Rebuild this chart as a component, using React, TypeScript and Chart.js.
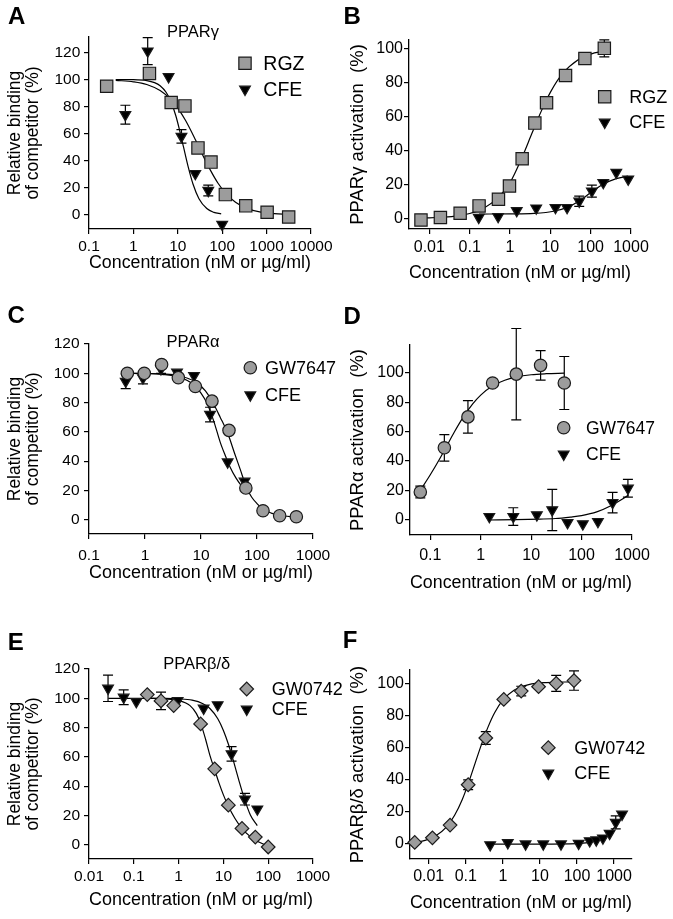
import { useEffect, useRef } from 'react';
import Chart from 'chart.js/auto';
import { drawPoint } from 'chart.js/helpers';

// ---- values ----

// A: PPARγ competitive binding
const aRgzX = [0.25, 2.3, 7.1, 14.5, 28.5, 56, 118, 340, 1030, 3150];
const aRgzY = [95, 104.5, 83, 80.5, 49.5, 39, 15, 6.7, 2, -1.5];
const aCfeX = [0.66, 2.1, 6.2, 12.1, 24.8, 48.6, 100];
const aCfeY = [74, 121, 102, 58, 30.5, 18, -7];
const aCfeErr = [7, 10, 0, 5, 0, 4, 0];
const aRgzFitX = [0.4, 1, 2, 4, 7, 10, 15, 25, 35, 55, 80, 120, 200, 350, 700, 1500, 3000];
const aRgzFitY = [99.4, 98.3, 96.3, 91.8, 85.2, 78.9, 69.7, 55.5, 45.4, 32.7, 23.6, 16.1, 9.3, 5.0, 2.2, 0.9, 0.4];
const aCfeFitX = [0.4, 1, 2, 3, 4, 5.5, 7, 9, 11, 13.5, 17, 22, 30, 45, 65, 95];
const aCfeFitY = [100, 99.9, 99.2, 97.7, 95.4, 90.4, 83.8, 73.4, 62.5, 50, 36, 22.8, 12, 4.7, 1.9, 0.8];

// B: PPARγ activation
const bRgzX = [0.0062, 0.0188, 0.058, 0.171, 0.517, 0.97, 2.0, 4.13, 8.05, 23.8, 72, 218];
const bRgzY = [-1, 0.5, 3, 7.3, 11.2, 19, 35, 56, 68, 84, 94, 100];
const bRgzErr = [0, 0, 0, 0, 0, 0, 0, 0, 0, 0, 0, 5];
const bCfeX = [0.168, 0.507, 1.47, 4.46, 13.4, 26, 52, 107, 205, 432, 854];
const bCfeY = [0.5, 1, 4.5, 6, 6.3, 6.3, 10, 16, 21, 27, 23];
const bCfeErr = [0, 0, 0, 0, 0, 0, 3, 3.5, 0, 0, 0];
const bRgzFitX = [0.006, 0.01, 0.02, 0.05, 0.1, 0.2, 0.5, 1, 2, 3.5, 6, 10, 20, 50, 100, 220];
const bRgzFitY = [0.2, 0.3, 0.6, 1.4, 2.8, 5.4, 12, 21, 36, 50, 63.2, 74.1, 85.1, 93.5, 96.6, 98.4];
const bCfeFitX = [0.17, 1, 4, 13, 26, 52, 107, 205, 432, 850];
const bCfeFitY = [2.5, 2.6, 2.9, 4.3, 6.4, 10.2, 15.6, 20.0, 23.3, 24.8];

// C: PPARα competitive binding
const cGwX = [0.484, 0.97, 1.98, 3.94, 7.92, 15.7, 31.6, 63.2, 128, 254, 504];
const cGwY = [100, 100, 106, 97, 91, 81, 61, 21.6, 6.1, 2.7, 2];
const cCfeX = [0.452, 0.92, 1.93, 3.73, 7.5, 14.5, 29.9, 60];
const cCfeY = [94.5, 96.8, 103, 100.7, 98.4, 71.8, 39.4, 26.2];
const cCfeErr = [5, 4, 3, 0, 0, 5, 0, 0];
const cGwFitX = [0.48, 1, 2, 4, 8, 12, 16, 22, 30, 40, 50, 65, 80, 100, 130, 180, 250, 500];
const cGwFitY = [100, 99.9, 99.6, 98.5, 94, 88, 80.5, 70, 59, 45, 34.5, 22, 15.5, 11, 7, 4.5, 3, 1.8];
const cCfeFitX = [0.45, 1, 2, 4, 7.5, 10, 13, 17, 22, 27, 33, 42, 52, 62];
const cCfeFitY = [100, 99.8, 99.3, 97.5, 92, 86.5, 79, 67, 53, 44, 36, 28.5, 23.5, 20.5];

// D: PPARα activation
const dGwX = [0.0634, 0.19, 0.558, 1.72, 5.07, 15.4, 45.4];
const dGwY = [19, 49, 70, 93, 99, 105, 93];
const dGwErr = [4, 9, 11, 0, 31, 10, 18];
const dCfeX = [1.48, 4.42, 13, 26.2, 52.8, 106, 211, 412, 830];
const dCfeY = [2.3, 2.3, 3.4, 6.8, -1.8, -2.7, -1.1, 11.8, 21.5];
const dCfeErr = [0, 6, 0, 14, 0, 0, 0, 7, 6];
const dGwFitX = [0.063, 0.1, 0.15, 0.21, 0.3, 0.45, 0.7, 1, 1.7, 3, 5, 10, 20, 45];
const dGwFitY = [20, 30.7, 40.9, 50, 59.7, 69.8, 79, 84.8, 91, 94.9, 97, 98.6, 99.3, 99.7];
const dCfeFitX = [1.5, 5, 15, 30, 60, 100, 200, 400, 600, 850];
const dCfeFitY = [0, 0.2, 0.6, 1, 2, 3, 5.5, 10, 13.5, 17];

// E: PPARβ/δ competitive binding
const eGwX = [0.2, 0.405, 0.776, 3.1, 6.38, 12.9, 26, 51.6, 100];
const eGwY = [102.5, 98.2, 95, 82.5, 51.8, 27, 11.1, 5.2, -1.6];
const eGwErr = [0, 6, 0, 0, 0, 0, 0, 0, 0];
const eCfeX = [0.0266, 0.0594, 0.114, 0.95, 3.62, 7.45, 15.2, 30.3, 57.2];
const eCfeY = [106.8, 100.7, 97.7, 98.4, 93.2, 95.5, 62, 31.1, 24.3];
const eCfeErr = [9, 5, 0, 0, 0, 0, 5, 4, 0];
const eGwFitX = [0.2, 0.5, 1, 1.8, 2.5, 3.1, 4, 5, 6.4, 8, 10, 13, 18, 26, 40, 60, 100];
const eGwFitY = [100, 99.6, 98.5, 95, 89.5, 83, 72, 61, 51, 42, 34, 26, 18, 11, 5.5, 2, -1];
const eCfeFitX = [0.027, 0.1, 0.5, 1, 2, 3.5, 5, 7.5, 10, 13, 17, 22, 30, 40, 57];
const eCfeFitY = [100, 100, 99.9, 99.6, 98.7, 96.3, 93, 86, 78, 68.4, 56.5, 44.3, 30.6, 20.3, 13];

// F: PPARβ/δ activation
const fGwX = [0.0042, 0.0126, 0.0377, 0.116, 0.347, 1.06, 3.13, 9.2, 27.5, 83];
const fGwY = [1, 3.9, 11.8, 36.9, 66, 90, 95.2, 97.9, 100, 101.7];
const fGwErr = [0, 0, 0, 3, 4, 0, 3, 0, 5, 6];
const fCfeX = [0.455, 1.36, 4.1, 12.3, 37, 111, 220, 331, 500, 760, 1110, 1640];
const fCfeY = [-0.5, 0.8, 0, 0, 0, 0.4, 2, 2.5, 3.7, 6.6, 13.5, 18.5];
const fCfeErr = [0, 0, 0, 0, 0, 0, 0, 0, 0, 0, 4, 0];
const fGwFitX = [0.0042, 0.008, 0.015, 0.03, 0.05, 0.08, 0.12, 0.18, 0.27, 0.4, 0.6, 1, 2, 5, 15, 83];
const fGwFitY = [1.1, 2.3, 4.9, 10.5, 17.9, 27.6, 38.4, 50.5, 62.5, 72.9, 81.7, 89.5, 95.7, 99.2, 100.5, 100.9];
const fCfeFitX = [0.45, 10, 100, 200, 350, 500, 700, 900, 1200, 1700];
const fCfeFitY = [0, 0, 0.3, 0.9, 2.2, 3.6, 6, 8.8, 12.5, 18];

// tick labels
const aXTicks = [0.1, 1, 10, 100, 1000, 10000];
const bXTicks = [0.01, 0.1, 1, 10, 100, 1000];
const cXTicks = [0.1, 1, 10, 100, 1000];
const dXTicks = [0.1, 1, 10, 100, 1000];
const eXTicks = [0.01, 0.1, 1, 10, 100, 1000];
const fXTicks = [0.01, 0.1, 1, 10, 100, 1000];
const bindYTicks = [0, 20, 40, 60, 80, 100, 120];
const actYTicks = [0, 20, 40, 60, 80, 100];

const X_TITLE = 'Concentration (nM or µg/ml)';
const BIND_TITLE = ['Relative binding', 'of competitor (%)'];

// ---- styling ----
const FONT = '"Liberation Sans", Arial, Helvetica, sans-serif';
const GREY = '#9c9c9c';
const EDGE = '#1a1a1a';

type Marker = {
  pointStyle: 'rect' | 'triangle' | 'circle' | 'rectRot';
  radius: number;
  rotation: number;
  fill: string;
};
const SQUARE: Marker = { pointStyle: 'rect', radius: 8.7, rotation: 0, fill: GREY };
const TRIANGLE: Marker = { pointStyle: 'triangle', radius: 6.2, rotation: 180, fill: '#000' };
const CIRCLE: Marker = { pointStyle: 'circle', radius: 6.2, rotation: 0, fill: GREY };
const DIAMOND: Marker = { pointStyle: 'rectRot', radius: 6.8, rotation: 0, fill: GREY };

interface Series {
  label: string;
  xs: number[];
  ys: number[];
  errs?: number[];
  marker: Marker;
  fitX: number[];
  fitY: number[];
}

interface PanelDef {
  letter: string;
  letterX: number;
  letterY: number;
  left: number;
  top: number;
  width: number;
  height: number;
  area: { l: number; t: number; r: number; b: number };
  xMin: number;
  xMax: number;
  xTicks: number[];
  yMin: number;
  yMax: number;
  yTicks: number[];
  yTitle: string | string[];
  yTitleSize: number;
  yTitlePad: number;
  yTickPad: number;
  tickSize: number;
  xTitlePad: number;
  xTickPad: number;
  title?: { text: string; x: number; y: number };
  legend: { markerX: number; textX: number; ys: number[]; size: number };
  series: Series[];
}

const panels: PanelDef[] = [
  {
    letter: 'A', letterX: 16.7, letterY: 17.7,
    left: 0, top: 0, width: 336, height: 300,
    area: { l: 89, t: 37, r: 313, b: 229 },
    xMin: 0.1, xMax: 10000, xTicks: aXTicks,
    yMin: -10.4, yMax: 131.4, yTicks: bindYTicks,
    yTitle: BIND_TITLE, yTitleSize: 17.5, yTitlePad: 5.8, yTickPad: 3.7, tickSize: 15.5,
    xTitlePad: 27.3, xTickPad: 3.5,
    title: { text: 'PPARγ', x: 193, y: 32 },
    legend: { markerX: 245, textX: 263.3, ys: [63.3, 89.3], size: 19.5 },
    series: [
      { label: 'RGZ', xs: aRgzX, ys: aRgzY, marker: SQUARE, fitX: aRgzFitX, fitY: aRgzFitY },
      { label: 'CFE', xs: aCfeX, ys: aCfeY, errs: aCfeErr, marker: TRIANGLE, fitX: aCfeFitX, fitY: aCfeFitY },
    ],
  },
  {
    letter: 'B', letterX: 16.2, letterY: 17.2,
    left: 336, top: 0, width: 337, height: 300,
    area: { l: 73, t: 40, r: 295, b: 229 },
    xMin: 0.00313, xMax: 1000, xTicks: bXTicks,
    yMin: -6.3, yMax: 104.9, yTicks: actYTicks,
    yTitle: 'PPARγ activation  (%)', yTitleSize: 18.5, yTitlePad: 12.3, yTickPad: 1, tickSize: 16,
    xTitlePad: 17.5, xTickPad: 4,
    legend: { markerX: 268.7, textX: 293.3, ys: [96.7, 122.3], size: 18 },
    series: [
      { label: 'RGZ', xs: bRgzX, ys: bRgzY, errs: bRgzErr, marker: SQUARE, fitX: bRgzFitX, fitY: bRgzFitY },
      { label: 'CFE', xs: bCfeX, ys: bCfeY, errs: bCfeErr, marker: TRIANGLE, fitX: bCfeFitX, fitY: bCfeFitY },
    ],
  },
  {
    letter: 'C', letterX: 16.2, letterY: 16.2,
    left: 0, top: 300, width: 346, height: 310,
    area: { l: 89, t: 44, r: 313, b: 234 },
    xMin: 0.1, xMax: 1000, xTicks: cXTicks,
    yMin: -9.8, yMax: 120, yTicks: bindYTicks,
    yTitle: BIND_TITLE, yTitleSize: 17.5, yTitlePad: 5.8, yTickPad: 4.5, tickSize: 15.5,
    xTitlePad: 27.5, xTickPad: 7.5,
    title: { text: 'PPARα', x: 193, y: 42.7 },
    legend: { markerX: 250.3, textX: 265, ys: [67.7, 95], size: 18 },
    series: [
      { label: 'GW7647', xs: cGwX, ys: cGwY, marker: CIRCLE, fitX: cGwFitX, fitY: cGwFitY },
      { label: 'CFE', xs: cCfeX, ys: cCfeY, errs: cCfeErr, marker: TRIANGLE, fitX: cCfeFitX, fitY: cCfeFitY },
    ],
  },
  {
    letter: 'D', letterX: 16.2, letterY: 17.7,
    left: 336, top: 300, width: 337, height: 310,
    area: { l: 74, t: 45, r: 296, b: 235 },
    xMin: 0.0396, xMax: 1000, xTicks: dXTicks,
    yMin: -10.2, yMax: 118.8, yTicks: actYTicks,
    yTitle: 'PPARα activation  (%)', yTitleSize: 18.5, yTitlePad: 12, yTickPad: 1, tickSize: 16,
    xTitlePad: 17.5, xTickPad: 6.3,
    legend: { markerX: 227.7, textX: 250, ys: [127.7, 154.3], size: 17.5 },
    series: [
      { label: 'GW7647', xs: dGwX, ys: dGwY, errs: dGwErr, marker: CIRCLE, fitX: dGwFitX, fitY: dGwFitY },
      { label: 'CFE', xs: dCfeX, ys: dCfeY, errs: dCfeErr, marker: TRIANGLE, fitX: dCfeFitX, fitY: dCfeFitY },
    ],
  },
  {
    letter: 'E', letterX: 15.7, letterY: 33.3,
    left: 0, top: 610, width: 360, height: 309,
    area: { l: 89, t: 59, r: 313, b: 249 },
    xMin: 0.01, xMax: 1000, xTicks: eXTicks,
    yMin: -9.8, yMax: 120, yTicks: bindYTicks,
    yTitle: BIND_TITLE, yTitleSize: 17.5, yTitlePad: 5.8, yTickPad: 4, tickSize: 15.5,
    xTitlePad: 9.8, xTickPad: 3,
    title: { text: 'PPARβ/δ', x: 196.7, y: 54.3 },
    legend: { markerX: 246.7, textX: 271.7, ys: [79, 99.3], size: 18 },
    series: [
      { label: 'GW0742', xs: eGwX, ys: eGwY, errs: eGwErr, marker: DIAMOND, fitX: eGwFitX, fitY: eGwFitY },
      { label: 'CFE', xs: eCfeX, ys: eCfeY, errs: eCfeErr, marker: TRIANGLE, fitX: eCfeFitX, fitY: eCfeFitY },
    ],
  },
  {
    letter: 'F', letterX: 14, letterY: 31.7,
    left: 336, top: 610, width: 337, height: 309,
    area: { l: 74, t: 60, r: 296, b: 249 },
    xMin: 0.00313, xMax: 3048, xTicks: fXTicks,
    yMin: -9.3, yMax: 108.3, yTicks: actYTicks,
    yTitle: 'PPARβ/δ activation  (%)', yTitleSize: 18.5, yTitlePad: 12, yTickPad: 1, tickSize: 16,
    xTitlePad: 6.5, xTickPad: 3,
    legend: { markerX: 212.3, textX: 238.3, ys: [137.7, 163.3], size: 18 },
    series: [
      { label: 'GW0742', xs: fGwX, ys: fGwY, errs: fGwErr, marker: DIAMOND, fitX: fGwFitX, fitY: fGwFitY },
      { label: 'CFE', xs: fCfeX, ys: fCfeY, errs: fCfeErr, marker: TRIANGLE, fitX: fCfeFitX, fitY: fCfeFitY },
    ],
  },
];

// vertical error bars with caps, drawn under the markers
const errorBars = {
  id: 'errorBars',
  beforeDatasetsDraw(chart: any) {
    const ctx: CanvasRenderingContext2D = chart.ctx;
    const yScale = chart.scales.y;
    chart.data.datasets.forEach((ds: any, i: number) => {
      if (!ds.errs) return;
      const meta = chart.getDatasetMeta(i);
      ctx.save();
      ctx.strokeStyle = '#000';
      ctx.lineWidth = 1.2;
      meta.data.forEach((pt: any, j: number) => {
        const e = ds.errs[j];
        if (!e) return;
        const v = ds.data[j].y;
        const top = yScale.getPixelForValue(v + e);
        const bot = yScale.getPixelForValue(v - e);
        ctx.beginPath();
        ctx.moveTo(pt.x, top);
        ctx.lineTo(pt.x, bot);
        ctx.moveTo(pt.x - 5, top);
        ctx.lineTo(pt.x + 5, top);
        ctx.moveTo(pt.x - 5, bot);
        ctx.lineTo(pt.x + 5, bot);
        ctx.stroke();
      });
      ctx.restore();
    });
  },
};

// panel letter, panel title and the legend
function decoPlugin(def: PanelDef) {
  return {
    id: 'deco',
    afterDraw(chart: any) {
      const ctx: CanvasRenderingContext2D = chart.ctx;
      ctx.save();
      ctx.fillStyle = '#000';
      ctx.textAlign = 'center';
      ctx.textBaseline = 'middle';
      ctx.font = `bold 24px ${FONT}`;
      ctx.fillText(def.letter, def.letterX, def.letterY);
      if (def.title) {
        ctx.font = `16.5px ${FONT}`;
        ctx.fillText(def.title.text, def.title.x, def.title.y);
      }
      ctx.font = `${def.legend.size}px ${FONT}`;
      ctx.textAlign = 'left';
      def.series.forEach((s, i) => {
        const y = def.legend.ys[i];
        ctx.fillStyle = s.marker.fill;
        ctx.strokeStyle = EDGE;
        ctx.lineWidth = 1.2;
        drawPoint(ctx, {
          pointStyle: s.marker.pointStyle,
          radius: s.marker.radius,
          rotation: s.marker.rotation,
          borderWidth: 1.2,
        } as any, def.legend.markerX, y);
        ctx.fillStyle = '#000';
        ctx.fillText(s.label, def.legend.textX, y + 1);
      });
      ctx.restore();
    },
  };
}

function buildConfig(def: PanelDef): any {
  const pointSets = def.series.map((s) => ({
    label: s.label,
    data: s.xs.map((x, i) => ({ x, y: s.ys[i] })),
    errs: s.errs,
    showLine: false,
    pointStyle: s.marker.pointStyle,
    pointRadius: s.marker.radius,
    pointRotation: s.marker.rotation,
    pointBackgroundColor: s.marker.fill,
    pointBorderColor: EDGE,
    pointBorderWidth: 1.2,
    clip: false,
  }));
  const fitSets = def.series.map((s) => ({
    label: s.label + ' fit',
    data: s.fitX.map((x, i) => ({ x, y: s.fitY[i] })),
    showLine: true,
    borderColor: '#000',
    borderWidth: 1.2,
    pointRadius: 0,
    cubicInterpolationMode: 'monotone',
    clip: false,
  }));

  const tickFont = { family: FONT, size: def.tickSize };
  const grid = {
    display: true,
    drawOnChartArea: false,
    drawTicks: true,
    tickLength: 5,
    color: '#000',
    lineWidth: 1.2,
  };
  const border = { display: true, color: '#000', width: 1.3 };

  return {
    type: 'scatter',
    data: { datasets: [...pointSets, ...fitSets] },
    options: {
      animation: false,
      responsive: false,
      events: [],
      layout: {
        padding: { left: 0, top: def.area.t, right: def.width - def.area.r, bottom: 0 },
      },
      plugins: { legend: { display: false }, tooltip: { enabled: false } },
      scales: {
        x: {
          type: 'logarithmic',
          min: def.xMin,
          max: def.xMax,
          afterBuildTicks: (s: any) => {
            s.ticks = def.xTicks.map((v) => ({ value: v }));
          },
          afterFit: (s: any) => {
            s.height = def.height - def.area.b;
          },
          ticks: {
            font: tickFont,
            color: '#000',
            padding: def.xTickPad,
            maxRotation: 0,
            autoSkip: false,
            callback: (v: number) => String(v),
          },
          grid,
          border,
          title: {
            display: true,
            text: X_TITLE,
            font: { family: FONT, size: 18, lineHeight: 1.05 },
            color: '#000',
            padding: { top: 0, bottom: def.xTitlePad },
          },
        },
        y: {
          type: 'linear',
          min: def.yMin,
          max: def.yMax,
          afterBuildTicks: (s: any) => {
            s.ticks = def.yTicks.map((v) => ({ value: v }));
          },
          afterFit: (s: any) => {
            s.width = def.area.l;
          },
          ticks: {
            font: tickFont,
            color: '#000',
            padding: def.yTickPad,
            callback: (v: number) => String(v),
          },
          grid,
          border,
          title: {
            display: true,
            text: def.yTitle,
            font: { family: FONT, size: def.yTitleSize, lineHeight: 1.05 },
            color: '#000',
            padding: { top: def.yTitlePad, bottom: 0 },
          },
        },
      },
    },
    plugins: [errorBars, decoPlugin(def)],
  };
}

function Panel({ def }: { def: PanelDef }) {
  const canvasRef = useRef<HTMLCanvasElement | null>(null);

  useEffect(() => {
    if (!canvasRef.current) return;
    const chart = new Chart(canvasRef.current, buildConfig(def));
    return () => {
      chart.destroy();
    };
  }, [def]);

  return (
    <canvas
      ref={canvasRef}
      width={def.width}
      height={def.height}
      style={{ position: 'absolute', left: def.left, top: def.top, width: def.width, height: def.height }}
    />
  );
}

export default function App() {
  return (
    <div
      style={{
        position: 'absolute',
        left: 0,
        top: 0,
        width: 673,
        height: 919,
        background: '#fff',
        overflow: 'hidden',
      }}
    >
      {panels.map((p) => (
        <Panel key={p.letter} def={p} />
      ))}
    </div>
  );
}
